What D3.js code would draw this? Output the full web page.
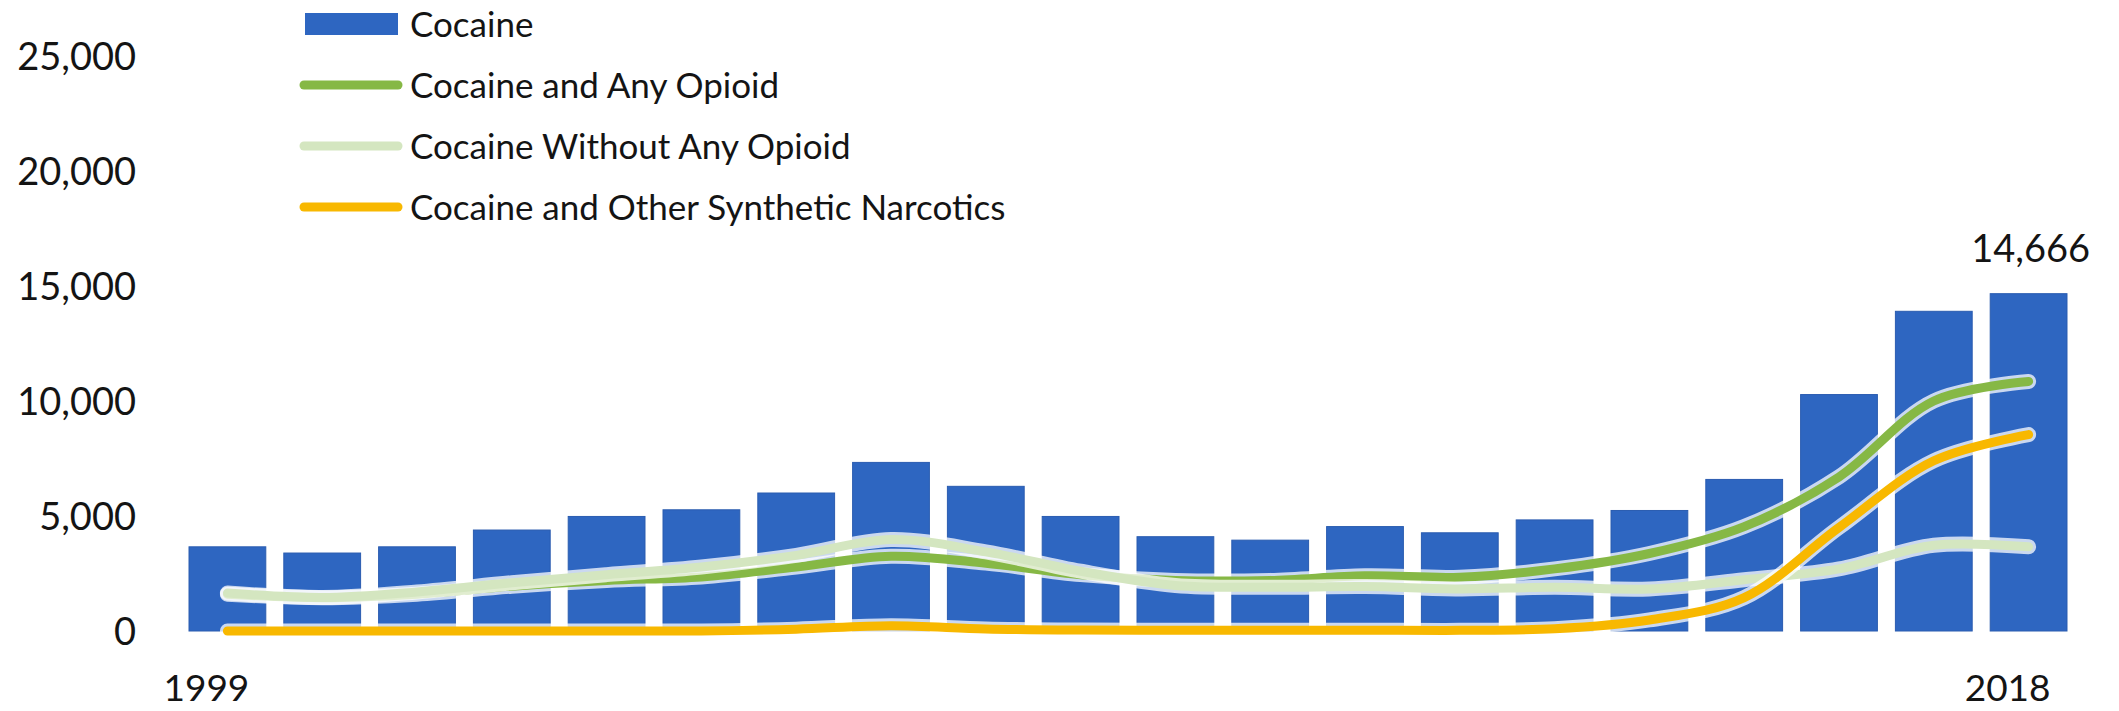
<!DOCTYPE html>
<html><head><meta charset="utf-8">
<script src="https://cdn.jsdelivr.net/npm/d3@7"></script>
<style>
html,body{margin:0;padding:0;background:#fff;}
svg{display:block;font-family:Lato,"Open Sans","DejaVu Sans",sans-serif;}
</style>
</head><body>
<svg id="c" width="2119" height="711"></svg>
<script>
// ---- data ----
const years = [1999,2000,2001,2002,2003,2004,2005,2006,2007,2008,2009,2010,2011,2012,2013,2014,2015,2016,2017,2018];
const cocaine = [3660,3390,3660,4390,4980,5270,6000,7330,6290,4980,4100,3950,4540,4270,4830,5240,6590,10280,13900,14666];
const cocaineAnyOpioid = [1600,1450,1600,1950,2200,2350,2780,3250,2950,2450,2200,2200,2400,2340,2700,3370,4540,6700,10000,10850];
const cocaineWithoutOpioid = [1650,1460,1700,2100,2450,2780,3290,3980,3440,2600,1980,1900,1930,1830,1900,1830,2230,2700,3730,3660];
const cocaineOtherSynthetic = [0,0,0,0,0,0,80,230,90,40,30,30,30,30,100,480,1450,4500,7400,8540];
const yTicks = [0,5000,10000,15000,20000,25000];
const xLabels = [1999,2018];
const seriesNames = ["Cocaine","Cocaine and Any Opioid","Cocaine Without Any Opioid","Cocaine and Other Synthetic Narcotics"];
const colors = {bar:"#2e66c1", any:"#86b845", without:"#d4e6c0", synth:"#f8b800"};

// ---- layout ----
const svg = d3.select('#c');
const x = d3.scaleBand().domain(years).range([180,2076]).paddingInner(0.19).paddingOuter(0.095);
const y = d3.scaleLinear().domain([0,25000]).range([631,56]);
const cx = d => x(d) + x.bandwidth()/2;

function txt(t, px, cy, size, anchor){
  return svg.append('text')
    .attr('x', px).attr('y', cy + 0.358*size)
    .attr('font-size', size).attr('text-anchor', anchor).attr('fill', '#141414')
    .text(t);
}

// y axis
const yAxis = svg.append('g').attr('transform','translate(136,0)')
  .call(d3.axisLeft(y).tickValues(yTicks).tickFormat(d3.format(',')).tickSize(0));
yAxis.select('.domain').remove();
yAxis.selectAll('text')
  .attr('x',0).attr('dy','0.358em')
  .attr('font-size',38).attr('font-family','Lato,"Open Sans",sans-serif')
  .attr('fill','#141414').attr('text-anchor','end');

// bars
svg.append('g').selectAll('rect').data(years).join('rect')
  .attr('x', d => x(d)).attr('width', x.bandwidth())
  .attr('y', (d,i) => y(cocaine[i])).attr('height', (d,i) => y(0) - y(cocaine[i]))
  .attr('fill', colors.bar).attr('stroke', '#2a5cb0').attr('stroke-width', 1);

// lines
const line = d3.line().x((d,i) => cx(years[i])).y(d => y(d)).curve(d3.curveCatmullRom.alpha(0.5));
[[cocaineAnyOpioid, colors.any],[cocaineWithoutOpioid, colors.without],[cocaineOtherSynthetic, colors.synth]].forEach(([vals,col]) => {
  svg.append('path').attr('d', line(vals)).attr('fill','none')
    .attr('stroke','#ffffff').attr('stroke-opacity',0.75).attr('stroke-width',15)
    .attr('stroke-linecap','round').attr('stroke-linejoin','round');
  svg.append('path').attr('d', line(vals)).attr('fill','none')
    .attr('stroke',col).attr('stroke-width',9)
    .attr('stroke-linecap','round').attr('stroke-linejoin','round');
});

// data label
txt(d3.format(',')(cocaine[cocaine.length-1]), cx(2018)+2, 248, 38, 'middle');

// x labels
xLabels.forEach(yr => txt(String(yr), cx(yr) - 21, 688, 37, 'middle'));

// legend
const legY = [24,85,146,207];
const lg = svg.append('g');
lg.append('rect').attr('x',305).attr('y',legY[0]-11).attr('width',93).attr('height',22).attr('fill',colors.bar);
[colors.any, colors.without, colors.synth].forEach((col,i) => {
  lg.append('line').attr('x1',304).attr('x2',398).attr('y1',legY[i+1]).attr('y2',legY[i+1])
    .attr('stroke',col).attr('stroke-width',9).attr('stroke-linecap','round');
});
seriesNames.forEach((nm,i) => txt(nm, 410, legY[i], 35, 'start'));
</script>
</body></html>
